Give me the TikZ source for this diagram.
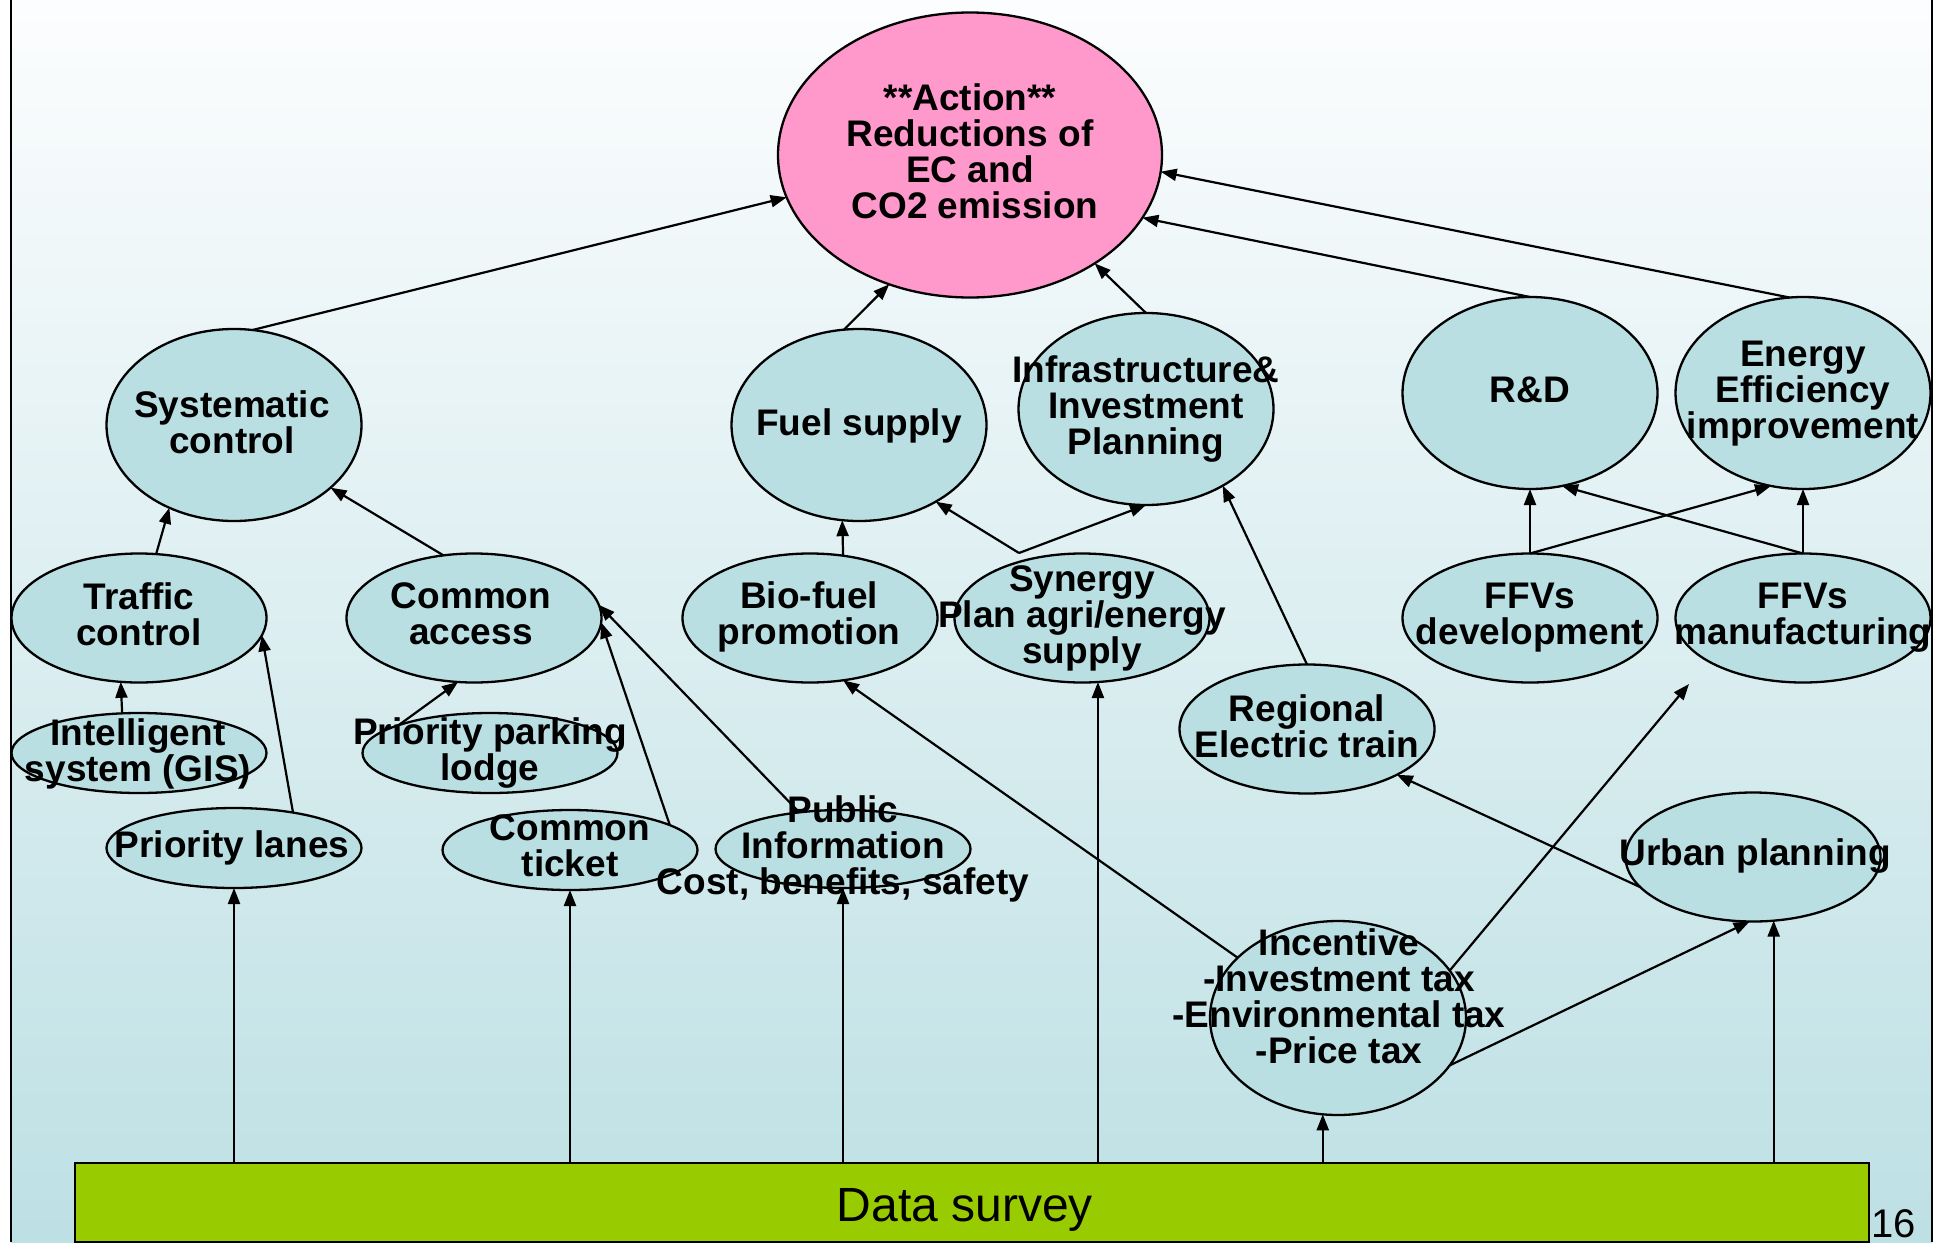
\documentclass[tikz,border=0pt]{standalone}
\usepackage{fontspec}
\setmainfont{Liberation Sans}
\usetikzlibrary{arrows.meta,shapes.geometric}
\definecolor{bgtop}{RGB}{252,253,254}
\definecolor{bgbot}{RGB}{189,224,228}
\definecolor{ellfill}{RGB}{185,223,227}
\definecolor{actfill}{RGB}{255,153,204}
\definecolor{datafill}{RGB}{153,204,0}
\begin{document}
\begin{tikzpicture}[x=0.5pt,y=-0.5pt,
  ell/.style={ellipse, draw, line width=1.15pt, fill=ellfill, inner sep=0pt, outer sep=0pt},
  big/.style={ell, minimum width=127.5pt, minimum height=96pt},
  mid/.style={ell, minimum width=127.5pt, minimum height=64.5pt},
  sml/.style={ell, minimum width=127.5pt, minimum height=40pt},
  lab/.style={font=\bfseries\fontsize{18.5}{18}\selectfont, align=center, inner sep=0pt},
  arr/.style={-{Triangle[length=8pt,width=6pt]}, line width=1.1pt},
]
\useasboundingbox (0,0) rectangle (1943,1242);
\fill[white] (0,0) rectangle (1943,1242);
\shade[top color=bgtop, bottom color=bgbot] (11,0) rectangle (1932,1242);
\draw[line width=1pt] (11,0) -- (11,1242);
\draw[line width=1pt] (1932,0) -- (1932,1242);

% ellipses
\node[ell, fill=actfill, minimum width=192pt, minimum height=142.5pt] (act) at (970,155) {};
\node[big] (sys) at (234,425) {};
\node[big] (fuel) at (859,425) {};
\node[big] (infra) at (1146,409) {};
\node[big] (rd) at (1530,393) {};
\node[big] (eff) at (1803,393) {};
\node[mid] (traffic) at (139,618) {};
\node[mid] (ca) at (474,618) {};
\node[mid] (bio) at (810,618) {};
\node[mid] (syn) at (1082,618) {};
\node[mid] (ffvdev) at (1530,618) {};
\node[mid] (ffvman) at (1803,618) {};
\node[sml] (gis) at (139,753) {};
\node[sml] (park) at (490,753) {};
\node[mid] (reg) at (1307,729) {};
\node[sml] (lanes) at (234,848) {};
\node[sml] (ticket) at (570,850) {};
\node[sml, minimum height=39pt] (pub) at (843,849) {};
\node[mid] (urban) at (1753,857) {};
\node[ell, minimum width=128pt, minimum height=97pt] (inc) at (1338,1018) {};

% data survey bar
\node[draw, line width=1.2pt, fill=datafill, minimum width=897pt, minimum height=39.5pt,
      anchor=north west, inner sep=0pt] (data) at (74,1162) {};
\node[font=\fontsize{24}{28}\selectfont, anchor=base, inner sep=0pt] (datat) at (965,1221) {Data survey};
\node[font=\fontsize{20}{24}\selectfont, anchor=base west, inner sep=0pt] (pg) at (1871,1237) {16};

% labels
\node[lab] (act-t) at (970,151.5) {**Action**\\Reductions of\hspace*{5pt}\\EC and\\\hspace*{5pt}CO2 emission};
\node[lab] (sys-t) at (232,422) {Systematic\\control};
\node[lab] (fuel-t) at (859,425.5) {Fuel supply};
\node[lab] (infra-t) at (1146,409) {Infrastructure\&\\Investment\\Planning};
\node[lab] (rd-t) at (1530,390) {R\&D};
\node[lab] (eff-t) at (1803,394) {Energy\\Efficiency\\improvement};
\node[lab] (traffic-t) at (139,614) {Traffic\\control};
\node[lab] (ca-t) at (471,614) {Common\\access};
\node[lab] (bio-t) at (809,617) {Bio-fuel\\promotion};
\node[lab] (syn-t) at (1082,618) {Synergy\\Plan agri/energy\\supply};
\node[lab] (ffvdev-t) at (1530,618) {FFVs\\development};
\node[lab] (ffvman-t) at (1803,618) {FFVs\\manufacturing};
\node[lab] (gis-t) at (138,753.5) {Intelligent\\system (GIS)};
\node[lab] (park-t) at (490,753.5) {Priority parking\\lodge};
\node[lab] (reg-t) at (1307,726) {Regional\\Electric train};
\node[lab] (lanes-t) at (232,848) {Priority lanes};
\node[lab] (ticket-t) at (570,846) {Common\\ticket};
\node[lab] (pub-t) at (843,848.5) {Public\\Information\\Cost, benefits, safety};
\node[lab] (urban-t) at (1755,856.5) {Urban planning};
\node[lab] (inc-t) at (1339,996) {Incentive\\-Investment tax\\-Environmental tax\\-Price tax};

% connectors to the goal
\draw[arr] (sys.79) -- (act.193);
\draw[arr] (fuel.99.6) -- (act.238);
\draw[arr] (infra.north) -- (act.319.5);
\draw[arr] (rd.north) -- (act.340.4);
\draw[arr] (eff.98.9) -- (act.355.6);
% second level
\draw[arr] (traffic.75) -- (sys.232.4);
\draw[arr] (ca.116.6) -- (sys.327);
\draw[arr] (bio.62.1) -- (fuel.260.4);
\coordinate (synv) at (1019,553);
\draw[arr] (synv) -- (fuel.315.7);
\draw[arr] (synv) -- (infra.south);
\draw[arr] (ffvdev.north) -- (rd.south);
\draw[arr] (ffvdev.north) -- (eff.251);
\draw[arr] (ffvman.north) -- (eff.south);
\draw[arr] (ffvman.north) -- (rd.289.5);
% third level
\draw[arr] (gis.113.4) -- (traffic.254.3);
\draw[arr] (lanes.31.6) -- (traffic.352.5);
\draw[arr] (park.163.2) -- (ca.256.2);
\draw[arr] (ticket.14.3) -- (ca.358.7);
\draw[arr] (pub.140) -- (ca.6.2);
\draw[arr] (inc.149.6) -- (bio.298.6);
\coordinate (mtip) at (1689,684);
\draw[arr] (inc.23.9) -- (mtip);
\draw[arr] (inc.337.2) -- (urban.267.4);
\draw[arr] (urban.195.1) -- (reg.333.7);
\draw[arr] (reg.north) -- (infra.315);
% from data survey
\draw[arr] (lanes.south |- data.north) -- (lanes.south);
\draw[arr] (ticket.south |- data.north) -- (ticket.south);
\draw[arr] (pub.south |- data.north) -- (pub.south);
\draw[arr] (syn.284.9 |- data.north) -- (syn.284.9);
\draw[arr] (inc.261.7 |- data.north) -- (inc.261.7);
\draw[arr] (urban.288.3 |- data.north) -- (urban.288.3);
\end{tikzpicture}
\end{document}
